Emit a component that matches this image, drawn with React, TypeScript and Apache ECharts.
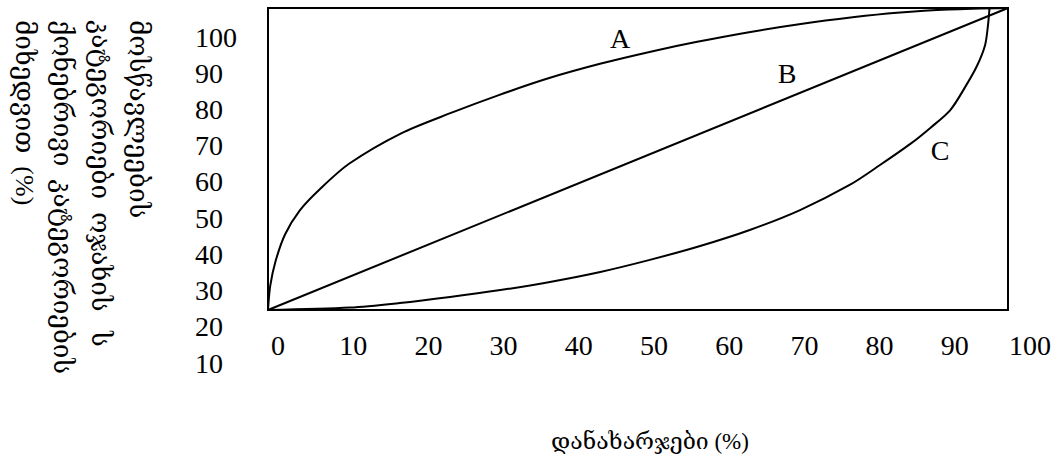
import React, { useEffect, useRef } from "react";
import * as echarts from "echarts";

// Curve values in percent of the framed plot (x: expenditures, y: students)
const curveAX = [0, 0.3, 1, 2.3, 4.3, 7, 11, 18, 25, 31, 38, 45, 52, 58, 65, 72, 79, 85, 92, 100];
const curveAY = [0, 8, 16, 25, 33, 40, 48.5, 58.5, 65.5, 71, 76.8, 81.6, 85.7, 88.8, 92, 94.7, 96.9, 98.4, 99.5, 100];
const curveBX = [0, 100];
const curveBY = [0, 100];
const curveCX = [0, 11.1, 17.8, 24.6, 31.4, 38.1, 44.9, 51.6, 58.4, 65.1, 71.9, 78.6, 82.7, 86.8, 89.5, 92.2, 94.2, 95.8, 96.9, 97.3, 97.5];
const curveCY = [0, 0.8, 2.3, 4.3, 6.6, 9.3, 12.6, 16.6, 21.2, 26.5, 33.1, 41.4, 48.0, 55.0, 60.3, 66.2, 73.8, 80.8, 87.7, 94.4, 100];
const seriesNames = ["A", "B", "C"];

// Tick label ranges
const xTickMin = 0;
const xTickMax = 100;
const yTickMin = 10;
const yTickMax = 100;
const tickStep = 10;

const xAxisTitle = "დანახარჯები (%)";
const yAxisTitleLines = [
  "მოსწავლეების",
  "კატეგორიები  ოჯახის   ს",
  "ქონებრივი  კატეგორიების",
  "მიხედვით  (%)",
];

const FONT = "'Liberation Serif', 'DejaVu Serif', 'Times New Roman', serif";

const zip = (xs: number[], ys: number[]) => xs.map((x, i) => [x, ys[i]]);

export default function App() {
  const ref = useRef<HTMLDivElement>(null);

  useEffect(() => {
    document.body.style.margin = "0";
    if (!ref.current) return;
    const chart = echarts.init(ref.current, undefined, { renderer: "svg" });

    const lineStyle = { color: "#000", width: 2 };
    const curves = [zip(curveAX, curveAY), zip(curveBX, curveBY), zip(curveCX, curveCY)];

    const labelStyle = {
      fontSize: 28,
      fontFamily: FONT,
      fill: "#000",
    };

    chart.setOption({
      animation: false,
      backgroundColor: "#fff",
      grid: [
        { left: 268, top: 8, width: 740, height: 302, show: true, borderColor: "#000", borderWidth: 2, backgroundColor: "transparent" },
        { left: 203, top: 37, width: 10, height: 326 },
        { left: 278, top: 300, width: 752, height: 21 },
      ],
      xAxis: [
        { gridIndex: 0, type: "value", min: 0, max: 100, show: false },
        { gridIndex: 1, type: "value", min: 0, max: 1, show: false },
        {
          gridIndex: 2,
          type: "value",
          min: xTickMin,
          max: xTickMax,
          interval: tickStep,
          axisLine: { show: false },
          axisTick: { show: false },
          splitLine: { show: false },
          axisLabel: {
            margin: 10,
            fontSize: 28,
            fontFamily: FONT,
            color: "#000",
            showMinLabel: true,
            showMaxLabel: true,
            hideOverlap: false,
          },
        },
      ],
      yAxis: [
        { gridIndex: 0, type: "value", min: 0, max: 100, show: false },
        {
          gridIndex: 1,
          type: "value",
          min: yTickMin,
          max: yTickMax,
          interval: tickStep,
          axisLine: { show: false },
          axisTick: { show: false },
          splitLine: { show: false },
          axisLabel: {
            margin: 8,
            align: "left",
            fontSize: 28,
            fontFamily: FONT,
            color: "#000",
            showMinLabel: true,
            showMaxLabel: true,
            hideOverlap: false,
          },
        },
        { gridIndex: 2, type: "value", show: false },
      ],
      series: curves.map((data, i) => ({
        name: seriesNames[i],
        type: "line",
        xAxisIndex: 0,
        yAxisIndex: 0,
        data,
        showSymbol: false,
        smooth: 0.3,
        lineStyle,
        silent: true,
      })),
      graphic: [
        {
          type: "text",
          x: 157,
          y: 20,
          rotation: -Math.PI / 2,
          style: {
            text: yAxisTitleLines.join("\n"),
            fontSize: 26,
            fontFamily: FONT,
            fill: "#000",
            lineHeight: 38,
            textAlign: "left",
            textVerticalAlign: "top",
          },
        },
        {
          type: "text",
          x: 650,
          y: 441,
          style: { ...labelStyle, text: xAxisTitle, fontSize: 23, textAlign: "center", textVerticalAlign: "middle" },
        },
        { type: "text", x: 620, y: 38, style: { ...labelStyle, text: seriesNames[0], textAlign: "center", textVerticalAlign: "middle" } },
        { type: "text", x: 787, y: 73, style: { ...labelStyle, text: seriesNames[1], textAlign: "center", textVerticalAlign: "middle" } },
        { type: "text", x: 940, y: 150, style: { ...labelStyle, text: seriesNames[2], textAlign: "center", textVerticalAlign: "middle" } },
      ],
    });

    return () => chart.dispose();
  }, []);

  return <div ref={ref} style={{ width: 1064, height: 461 }} />;
}
